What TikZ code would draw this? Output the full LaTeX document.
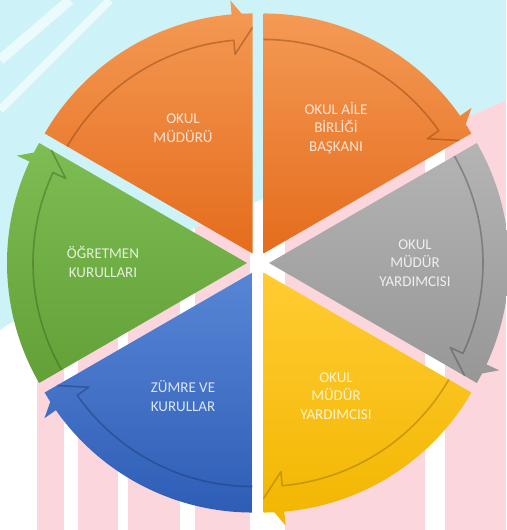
\documentclass[tikz,border=0pt]{standalone}
\usepackage{fontspec}
\setmainfont{Carlito}
\usetikzlibrary{calc}
\definecolor{bgcyan}{HTML}{CDF3F8}
\definecolor{bgpink}{HTML}{FCD6DD}
\definecolor{orTop}{HTML}{F49A55}
\definecolor{orBot}{HTML}{E56C1C}
\definecolor{grTop}{HTML}{B4B4B4}
\definecolor{grBot}{HTML}{979797}
\definecolor{yeTop}{HTML}{FFCC33}
\definecolor{yeBot}{HTML}{F2B600}
\definecolor{blTop}{HTML}{5886D6}
\definecolor{blBot}{HTML}{2E5DB6}
\definecolor{gnTop}{HTML}{7EBD53}
\definecolor{gnBot}{HTML}{62A038}
\definecolor{orTxt}{HTML}{FCE4D6}
\definecolor{grTxt}{HTML}{EEEEEE}
\definecolor{yeTxt}{HTML}{FFF2CC}
\definecolor{blTxt}{HTML}{DCE5F5}
\definecolor{gnTxt}{HTML}{E4F1DA}
% #1 bisector angle, #2 top colour, #3 bottom colour, #4 shadow colour
\newcommand{\cycseg}[4]{%
 \begin{scope}[xshift={258pt+11pt*cos(#1)}, yshift={267pt+11pt*sin(#1)}]
  \shade[top color=#2, bottom color=#3]
   (0,0) -- (#1+30:240pt) arc[start angle=#1+30, end angle=#1-30, radius=240pt] -- cycle
   (#1+30:240pt) arc[start angle=#1+30, end angle=#1-25, radius=240pt]
     -- (#1-25:254pt) -- (#1-30:227pt) -- (#1-25:201pt) -- (#1-25:215pt)
     arc[start angle=#1-25, end angle=#1+30, radius=215pt] -- cycle;
  \draw[#4, line width=1.6pt, opacity=0.45, line join=round]
   (#1+30:214pt) arc[start angle=#1+30, end angle=#1-25, radius=214pt]
     -- (#1-25:200pt) -- (#1-30:226pt);
 \end{scope}}
\begin{document}
\begin{tikzpicture}[x=1pt,y=1pt,
  lbl/.style={align=center, font=\fontsize{15}{18.5}\selectfont, inner sep=0pt}]
\useasboundingbox (0,0) rectangle (506,530);
% background watermark
\fill[white] (0,0) rectangle (506,530);
\fill[bgcyan] (0,530) -- (506,530) -- (506,430) .. controls (400,380) and (150,300) .. (0,200) -- cycle;
\begin{scope}
 \clip (0,200) .. controls (150,300) and (400,380) .. (506,430) -- (506,0) -- (0,0) -- cycle;
 \foreach \a/\b in {37/64,78/118,128/180,195/250,285/425,445/506}
   \fill[bgpink] (\a,0) rectangle (\b,530);
\end{scope}
\draw[white, opacity=0.6, line width=10pt] (0,470) -- (70,530);
\draw[white, opacity=0.6, line width=8pt] (0,420) -- (110,530);
% segments
\cycseg{120}{orTop}{orBot}{orBot!60!black}
\cycseg{60}{orTop}{orBot}{orBot!60!black}
\cycseg{0}{grTop}{grBot}{grBot!50!black}
\cycseg{-60}{yeTop}{yeBot}{yeBot!60!black}
\cycseg{-120}{blTop}{blBot}{blBot!60!black}
\cycseg{180}{gnTop}{gnBot}{gnBot!60!black}
% labels
\node[lbl, text=orTxt] (okulmuduru) at (183,402) {OKUL\\MÜDÜRÜ};
\node[lbl, text=orTxt] (aile) at (336,402) {OKUL AİLE\\BİRLİĞİ\\BAŞKANI};
\node[lbl, text=grTxt] (yard1) at (415,267) {OKUL\\MÜDÜR\\YARDIMCISI};
\node[lbl, text=yeTxt] (yard2) at (336,134) {OKUL\\MÜDÜR\\YARDIMCISI};
\node[lbl, text=blTxt] (zumre) at (183,134) {ZÜMRE VE\\KURULLAR};
\node[lbl, text=gnTxt] (ogretmen) at (103,268) {ÖĞRETMEN\\KURULLARI};
\end{tikzpicture}
\end{document}
